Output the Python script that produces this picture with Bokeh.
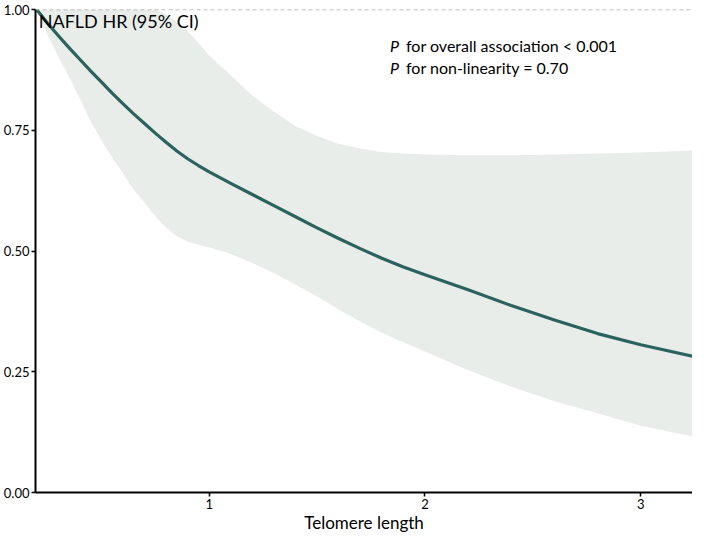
from bokeh.plotting import figure
from bokeh.models import Span, Label, FixedTicker, Range1d, CustomJSTickFormatter
from bokeh.embed import file_html
from bokeh.resources import INLINE

# Data
telomere = [0.2, 0.25, 0.3, 0.35, 0.4, 0.45, 0.5, 0.55, 0.6, 0.65, 0.7, 0.75, 0.8,
            0.85, 0.9, 0.95, 1.0, 1.1, 1.2, 1.3, 1.4, 1.5, 1.6, 1.7, 1.8, 1.9,
            2.0, 2.2, 2.4, 2.6, 2.8, 3.0, 3.24]
hr = [1.0, 0.972, 0.946, 0.921, 0.897, 0.873, 0.850, 0.827, 0.805, 0.784, 0.764,
      0.744, 0.725, 0.707, 0.691, 0.677, 0.664, 0.640, 0.617, 0.594, 0.571, 0.548,
      0.526, 0.505, 0.485, 0.467, 0.451, 0.420, 0.387, 0.357, 0.329, 0.306, 0.282]
ci_upper = [1.0, 1.0, 1.0, 1.0, 1.0, 1.0, 1.0, 1.0, 1.0, 1.0, 1.0, 1.0, 0.99,
            0.974, 0.955, 0.931, 0.905, 0.864, 0.822, 0.789, 0.759, 0.738, 0.722,
            0.712, 0.705, 0.702, 0.700, 0.698, 0.698, 0.700, 0.702, 0.704, 0.708]
ci_lower = [1.0, 0.949, 0.903, 0.860, 0.815, 0.769, 0.730, 0.694, 0.661, 0.627,
            0.600, 0.572, 0.548, 0.531, 0.519, 0.513, 0.507, 0.494, 0.475, 0.454,
            0.430, 0.406, 0.379, 0.354, 0.331, 0.311, 0.292, 0.253, 0.219, 0.189,
            0.164, 0.138, 0.116]
x_ticks = [1, 2, 3]
y_ticks = [0.0, 0.25, 0.5, 0.75, 1.0]
reference_hr = 1.0

FONT = "Lato"

p = figure(width=692, height=535, output_backend="svg", toolbar_location=None,
           x_range=Range1d(0.195, 3.24), y_range=Range1d(0.0, 1.0),
           min_border_left=0, min_border_right=0, min_border_top=9,
           min_border_bottom=0)
p.outline_line_color = None
p.grid.visible = False
p.background_fill_color = "white"

p.varea(x=telomere, y1=ci_lower, y2=ci_upper, fill_color="#e8edea", fill_alpha=1.0)
p.line(telomere, hr, line_color="#2b625d", line_width=3.2, line_join="round")

p.add_layout(Span(location=reference_hr, dimension="width", line_color="#aaaaaa",
                  line_dash="4 3", line_width=1.5))

# axes
p.xaxis.ticker = FixedTicker(ticks=x_ticks)
p.yaxis.ticker = FixedTicker(ticks=y_ticks)
p.yaxis.formatter = CustomJSTickFormatter(code="return tick.toFixed(2);")
for ax in (p.xaxis, p.yaxis):
    ax.axis_line_color = "black"
    ax.axis_line_width = 2
    ax.major_tick_line_color = "black"
    ax.major_tick_line_width = 1.5
    ax.major_tick_out = 4
    ax.major_tick_in = 0
    ax.minor_tick_line_color = None
    ax.major_label_text_font = FONT
    ax.major_label_text_font_size = "13px"
    ax.major_label_text_color = "black"
    ax.major_label_standoff = 2
p.xaxis.axis_label = "Telomere length"
p.xaxis.axis_label_text_font = FONT
p.xaxis.axis_label_text_font_size = "17px"
p.xaxis.axis_label_text_font_style = "normal"
p.xaxis.axis_label_text_color = "black"
p.xaxis.axis_label_standoff = 0

p.add_layout(Label(x=0.21, y=0.998, text="NAFLD HR (95% CI)", text_baseline="top",
                   text_font=FONT, text_font_size="18px", text_color="black"))

for yv, txt in ((0.925, "for overall association < 0.001"),
                (0.88, "for non-linearity = 0.70")):
    p.add_layout(Label(x=1.838, y=yv, text="P", text_baseline="middle",
                       text_font=FONT, text_font_size="16px", text_font_style="italic",
                       text_color="black"))
    p.add_layout(Label(x=1.838, y=yv, x_offset=16, text=txt,
                       text_baseline="middle", text_font=FONT, text_font_size="16px",
                       text_color="black"))

open("out.html", "w").write(file_html(p, INLINE))
